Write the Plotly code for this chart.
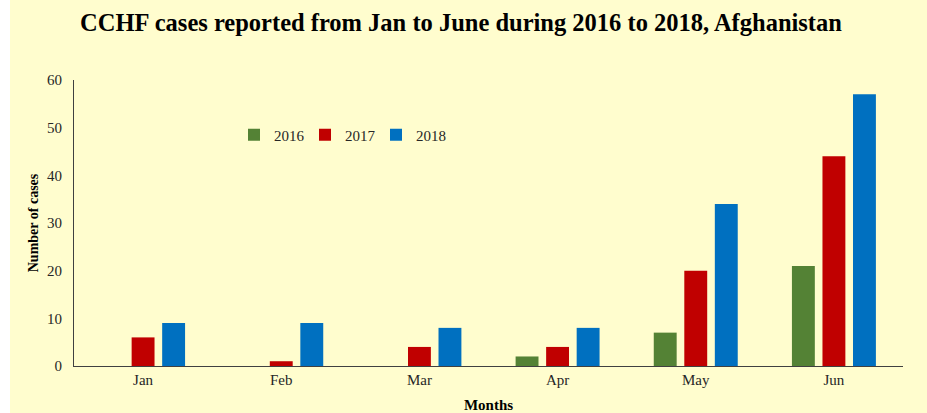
import plotly.graph_objects as go

months = ["Jan", "Feb", "Mar", "Apr", "May", "Jun"]
cases_2016 = [0, 0, 0, 2, 7, 21]
cases_2017 = [6, 1, 4, 4, 20, 44]
cases_2018 = [9, 9, 8, 8, 34, 57]
y_ticks = [0, 10, 20, 30, 40, 50, 60]

W, H = 927, 413
ML, MR, MT, MB = 74, 24, 80, 47
PW, PH = W - ML - MR, H - MT - MB
BG = "#FFFDCE"
FONT = "Liberation Serif"

fig = go.Figure()
for name, vals, col in [("2016", cases_2016, "#548235"),
                        ("2017", cases_2017, "#C00000"),
                        ("2018", cases_2018, "#0070C0")]:
    fig.add_trace(go.Bar(x=months, y=vals, name=name, marker=dict(color=col, line=dict(width=0))))

fig.update_layout(
    width=W, height=H,
    margin=dict(l=ML, r=MR, t=MT, b=MB, pad=0, autoexpand=False),
    paper_bgcolor=BG, plot_bgcolor=BG,
    font=dict(family=FONT, color="#262626", size=15),
    title=dict(text="<b>CCHF cases reported from Jan to June during 2016 to 2018, Afghanistan</b>",
               x=(461 - ML) / PW, xref="paper", xanchor="center", y=1 - 22 / H, yanchor="middle",
               font=dict(family=FONT, size=24.5, color="#000000")),
    barmode="group", bargap=0.337, bargroupgap=0.25,
    showlegend=True,
    legend=dict(orientation="h", x=(234 - ML) / PW, xanchor="left",
                y=(H - MB - 135) / PH, yanchor="middle",
                bgcolor="rgba(0,0,0,0)", font=dict(size=15, color="#262626"),
                entrywidth=26, entrywidthmode="pixels", tracegroupgap=0),
    xaxis=dict(showline=True, linecolor="#404040", linewidth=1, ticks="", automargin=False,
               tickfont=dict(size=15), showgrid=False,
               title=dict(text="<b>Months</b>", font=dict(size=15, color="#000000"), standoff=13)),
    yaxis=dict(range=[0, 60], tickvals=y_ticks, showline=True, linecolor="#404040", linewidth=1,
               ticks="", showgrid=False, zeroline=False, tickfont=dict(size=15), automargin=False,
               ticklabelstandoff=8,
               title=dict(text="<b>Number of cases</b>", font=dict(size=14, color="#000000"), standoff=5)),
    shapes=[dict(type="rect", xref="paper", yref="paper",
                 x0=-ML / PW, x1=(10 - ML) / PW, y0=-MB / PH, y1=(H - MB) / PH + 0.01,
                 fillcolor="#FFFFFF", line=dict(width=0), layer="below")],
)

fig.write_html("out.html", config={"displayModeBar": False},
               post_script="document.body.style.margin='0';document.body.style.overflow='hidden';")
